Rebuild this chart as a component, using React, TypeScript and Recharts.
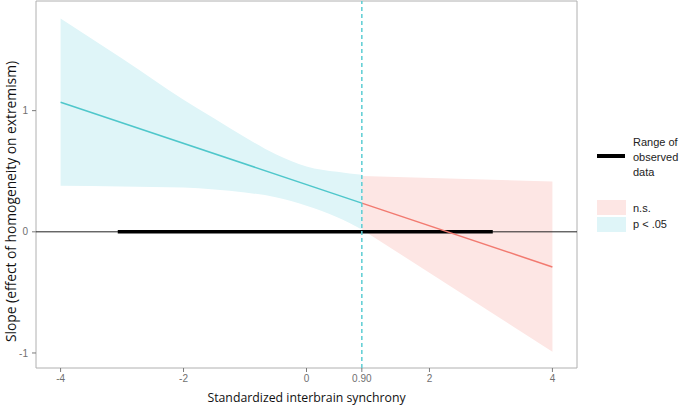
import React from 'react';
import { ComposedChart, Area, Line, XAxis, YAxis, ReferenceLine, ReferenceArea } from 'recharts';

// Johnson-Neyman plot: conditional slope of homogeneity on extremism
const SIG_X = [-4, -3, -2, -1.5, -1, -0.5, 0, 0.5, 0.9];
const SIG_LOW = [0.38, 0.375, 0.365, 0.35, 0.325, 0.285, 0.215, 0.12, 0.02];
const SIG_HIGH = [1.76, 1.43, 1.09, 0.935, 0.78, 0.64, 0.54, 0.495, 0.47];

const NS_X = [0.9, 4];
const NS_LOW = [0.02, -0.99];
const NS_HIGH = [0.46, 0.415];

const SLOPE_SIG_X = [-4, 0.9];
const SLOPE_SIG = [1.07, 0.237];
const SLOPE_NS_X = [0.9, 4];
const SLOPE_NS = [0.237, -0.29];

const OBSERVED_RANGE = [-3.07, 3.03];
const JN_POINT = 0.9;

const X_TICKS = [-4, -2, 0, 0.9, 2, 4];
const Y_TICKS = [-1, 0, 1];
const X_DOMAIN = [-4.4, 4.4];
const Y_DOMAIN = [-1.124, 1.905];

const BLUE = '#4fc7cb';
const BLUE_FILL = '#dff5f8';
const RED = '#f27a70';
const RED_FILL = '#fde6e4';

const sigBand = SIG_X.map((x, i) => ({ x, range: [SIG_LOW[i], SIG_HIGH[i]] }));
const nsBand = NS_X.map((x, i) => ({ x, range: [NS_LOW[i], NS_HIGH[i]] }));
const sigLine = SLOPE_SIG_X.map((x, i) => ({ x, y: SLOPE_SIG[i] }));
const nsLine = SLOPE_NS_X.map((x, i) => ({ x, y: SLOPE_NS[i] }));
const observed = OBSERVED_RANGE.map((x) => ({ x, y: 0 }));

const tickStyle = { fontFamily: '"Liberation Sans", Arial, sans-serif', fontSize: 10, fill: '#707070' };
const titleFont = '"Open Sans", "Noto Sans", sans-serif';

const YTitle = ({ viewBox }: any) => {
  const cx = 10;
  const cy = viewBox.y + viewBox.height / 2 + 17;
  return (
    <text
      x={cx}
      y={cy}
      transform={`rotate(-90, ${cx}, ${cy})`}
      textAnchor="middle"
      dominantBaseline="central"
      style={{ fontFamily: titleFont, fontSize: 13.8, fill: '#111' }}
    >
      Slope (effect of homogeneity on extremism)
    </text>
  );
};

const legendText: React.CSSProperties = {
  position: 'absolute',
  left: 633,
  fontFamily: '"Liberation Sans", Arial, sans-serif',
  fontSize: 11,
  color: '#222',
  lineHeight: '15px',
};

const App = () => {
  return (
    <div style={{ position: 'fixed', left: 0, top: 0, width: 680, height: 406, background: '#fff' }}>
      <ComposedChart width={680} height={406} margin={{ top: 1, right: 103, bottom: 0, left: 0 }}>
        <XAxis
          dataKey="x"
          type="number"
          domain={X_DOMAIN}
          ticks={X_TICKS}
          allowDataOverflow
          tickFormatter={(v: number) => (v === JN_POINT ? '0.90' : String(v))}
          tick={tickStyle}
          tickSize={4}
          tickMargin={3}
          tickLine={{ stroke: '#7a7a7a' }}
          axisLine={false}
          height={38}
          label={{
            value: 'Standardized interbrain synchrony',
            position: 'insideBottom',
            offset: 4,
            style: { fontFamily: titleFont, fontSize: 12.3, fill: '#111' },
          }}
        />
        <YAxis
          type="number"
          domain={Y_DOMAIN}
          ticks={Y_TICKS}
          allowDataOverflow
          tick={tickStyle}
          tickSize={4}
          tickMargin={4}
          tickLine={{ stroke: '#7a7a7a' }}
          axisLine={false}
          width={36}
          label={<YTitle />}
        />
        <Area
          data={sigBand}
          dataKey="range"
          type="monotone"
          stroke="none"
          fill={BLUE_FILL}
          fillOpacity={1}
          isAnimationActive={false}
        />
        <Area
          data={nsBand}
          dataKey="range"
          type="linear"
          stroke="none"
          fill={RED_FILL}
          fillOpacity={1}
          isAnimationActive={false}
        />
        <ReferenceLine y={0} stroke="#222" strokeWidth={1} />
        <Line
          data={observed}
          dataKey="y"
          stroke="#000"
          strokeWidth={3.5}
          dot={false}
          isAnimationActive={false}
        />
        <Line data={sigLine} dataKey="y" stroke={BLUE} strokeWidth={1.5} dot={false} isAnimationActive={false} />
        <Line data={nsLine} dataKey="y" stroke={RED} strokeWidth={1.5} dot={false} isAnimationActive={false} />
        <ReferenceLine x={JN_POINT} stroke="#5ccdd3" strokeWidth={1.5} strokeDasharray="4 3" />
        <ReferenceArea
          x1={X_DOMAIN[0]}
          x2={X_DOMAIN[1]}
          y1={Y_DOMAIN[0]}
          y2={Y_DOMAIN[1]}
          fill="none"
          stroke="#b0b0b0"
          strokeWidth={1}
          ifOverflow="visible"
        />
      </ComposedChart>

      {/* legend */}
      <div style={{ position: 'absolute', left: 597, top: 154, width: 28, height: 4, background: '#000' }} />
      <div style={{ ...legendText, top: 135 }}>
        Range of
        <br />
        observed
        <br />
        data
      </div>
      <div style={{ position: 'absolute', left: 597, top: 200, width: 29, height: 15, background: RED_FILL }} />
      <div style={{ ...legendText, top: 201 }}>n.s.</div>
      <div style={{ position: 'absolute', left: 597, top: 217, width: 29, height: 15, background: BLUE_FILL }} />
      <div style={{ ...legendText, top: 217 }}>p &lt; .05</div>
    </div>
  );
};

export default App;
